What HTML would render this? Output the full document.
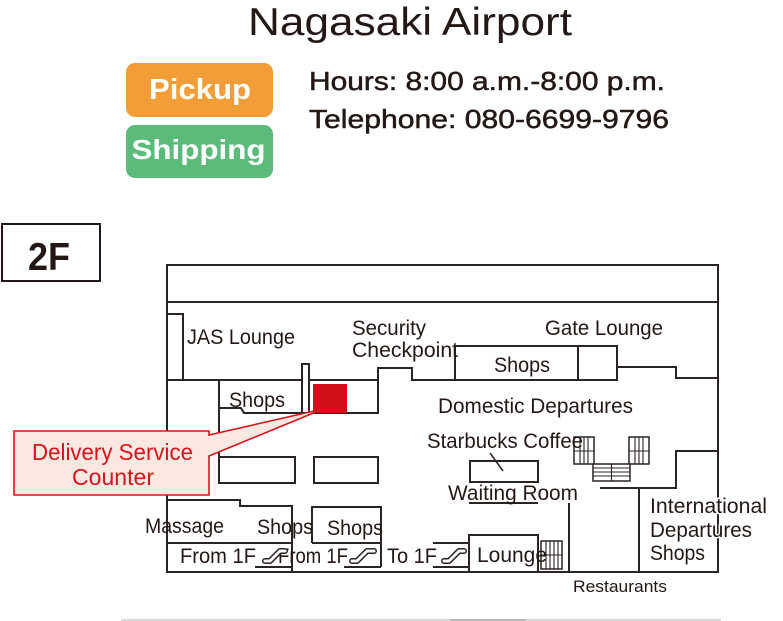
<!DOCTYPE html>
<html><head><meta charset="utf-8"><style>
html,body{margin:0;padding:0;background:#fff;}
svg{display:block;}
text{font-family:"Liberation Sans",Arial,sans-serif;}
</style></head><body>
<svg width="783" height="621" viewBox="0 0 783 621" xmlns="http://www.w3.org/2000/svg">
<rect width="783" height="621" fill="#fff"/>
<!-- Header -->
<text x="248" y="35" font-size="39" fill="#231815" textLength="324" lengthAdjust="spacingAndGlyphs">Nagasaki Airport</text>
<rect x="126" y="63" width="147" height="54" rx="9" fill="#f39d38"/>
<text x="149" y="99" font-size="29" font-weight="bold" fill="#fff" textLength="102" lengthAdjust="spacingAndGlyphs">Pickup</text>
<rect x="126" y="125" width="147" height="53" rx="9" fill="#5bbb7b"/>
<text x="131.5" y="159" font-size="28" font-weight="bold" fill="#fff" textLength="134" lengthAdjust="spacingAndGlyphs">Shipping</text>
<text x="309" y="90" font-size="26" fill="#231815" stroke="#231815" stroke-width="0.5" textLength="356" lengthAdjust="spacingAndGlyphs">Hours: 8:00 a.m.-8:00 p.m.</text>
<text x="309" y="128" font-size="26" fill="#231815" stroke="#231815" stroke-width="0.5" textLength="360" lengthAdjust="spacingAndGlyphs">Telephone: 080-6699-9796</text>

<!-- 2F -->
<rect x="2" y="224" width="98" height="57" fill="none" stroke="#231815" stroke-width="2"/>
<text x="28" y="270" font-size="39" font-weight="bold" fill="#231815" textLength="42" lengthAdjust="spacingAndGlyphs">2F</text>

<!-- Plan lines -->
<g fill="none" stroke="#2a2422" stroke-width="2">
  <rect x="167" y="265" width="551" height="307"/>
  <path d="M167,302 H718"/>
  <path d="M167,314 H183 V380"/>
  <path d="M167,380 H302"/>
  <rect x="302" y="364" width="7" height="49"/>
  <path d="M309,380 H378"/>
  <path d="M378,414 V368 H412 V380 H455"/>
  <path d="M455,380 V346 H617 V380 H455"/>
  <path d="M578,346 V380"/>
  <path d="M617,367 H676 V378 H718"/>
  <path d="M219,483 V380"/>
  <path d="M219,408 H241 L244,413 H302"/>
  <path d="M309,413 H378"/>
  <rect x="219" y="457" width="76" height="26"/>
  <rect x="314" y="457" width="64" height="26"/>
  <path d="M167,500 H240 V506 H292 V572"/>
  <path d="M167,543 H292"/>
  <path d="M255,567 H292"/>
  <path d="M312,543 V507 H381 V567"/>
  <path d="M312,543 H381"/>
  <path d="M344,567 H381"/>
  <path d="M433,543 H469"/>
  <path d="M433,567 H469"/>
  <rect x="469" y="535" width="69" height="37"/>
  <rect x="470" y="461" width="68" height="21"/>
  <path d="M469,503 H538"/>
  <path d="M718,451 H676 V488 H600"/>
  <path d="M639,488 V572"/>
  <path d="M569,503 V572"/>
</g>
<path d="M490,453 L503,471" stroke="#2a2422" stroke-width="1.5"/>

<!-- Stairs -->
<g fill="#fff" stroke="#2a2422" stroke-width="1.5">
  <rect x="574" y="437" width="20" height="27"/>
  <rect x="629" y="437" width="20" height="27"/>
  <rect x="593" y="464" width="37" height="17"/>
  <rect x="541" y="541" width="21" height="28"/>
</g>
<g stroke="#2a2422" stroke-width="1.1">
  <path d="M580,437 V464 M584,437 V464 M588,437 V464 M574,451 H594"/>
  <path d="M635,437 V464 M639,437 V464 M643,437 V464 M629,451 H649"/>
  <path d="M593,468 H630 M593,472 H630 M593,476 H630 M611.5,464 V481"/>
  <path d="M546,541 V569 M550,541 V569 M554,541 V569 M558,541 V569 M541,555 H562"/>
</g>

<!-- Red counter -->
<rect x="313" y="384" width="34" height="29" fill="#d0111b"/>

<!-- Labels -->
<g font-size="21" fill="#231815">
  <text x="187" y="344" textLength="108" lengthAdjust="spacingAndGlyphs">JAS Lounge</text>
  <text x="352" y="335" textLength="74" lengthAdjust="spacingAndGlyphs">Security</text>
  <text x="352" y="357" textLength="106" lengthAdjust="spacingAndGlyphs">Checkpoint</text>
  <text x="545" y="335" textLength="118" lengthAdjust="spacingAndGlyphs">Gate Lounge</text>
  <text x="494" y="372" textLength="56" lengthAdjust="spacingAndGlyphs">Shops</text>
  <text x="229" y="407" textLength="56" lengthAdjust="spacingAndGlyphs">Shops</text>
  <text x="438" y="413" textLength="195" lengthAdjust="spacingAndGlyphs">Domestic Departures</text>
  <text x="427" y="448" textLength="156" lengthAdjust="spacingAndGlyphs">Starbucks Coffee</text>
  <text x="448" y="500" textLength="130" lengthAdjust="spacingAndGlyphs">Waiting Room</text>
  <text x="145" y="533" textLength="79" lengthAdjust="spacingAndGlyphs">Massage</text>
  <text x="257" y="534" textLength="56" lengthAdjust="spacingAndGlyphs">Shops</text>
  <text x="327" y="535" textLength="56" lengthAdjust="spacingAndGlyphs">Shops</text>
  <text x="180" y="563" textLength="76" lengthAdjust="spacingAndGlyphs">From 1F</text>
  <text x="278" y="563" textLength="70" lengthAdjust="spacingAndGlyphs">From 1F</text>
  <text x="387" y="563" textLength="50" lengthAdjust="spacingAndGlyphs">To 1F</text>
  <text x="477" y="562" textLength="70" lengthAdjust="spacingAndGlyphs">Lounge</text>
  <text x="573" y="592" font-size="17" textLength="94" lengthAdjust="spacingAndGlyphs">Restaurants</text>
</g>
<g font-size="21" fill="#231815" stroke="#fff" stroke-width="3" paint-order="stroke">
  <text x="650" y="513" textLength="117" lengthAdjust="spacingAndGlyphs">International</text>
  <text x="650" y="537" textLength="102" lengthAdjust="spacingAndGlyphs">Departures</text>
  <text x="650" y="560" textLength="55" lengthAdjust="spacingAndGlyphs">Shops</text>
</g>

<!-- Escalators -->
<g fill="none" stroke-linecap="round" stroke-linejoin="round">
  <g transform="translate(261,547)">
    <path d="M4,14 H9 L19,4 H24" stroke="#2a2422" stroke-width="6"/>
    <path d="M4,14 H9 L19,4 H24" stroke="#fff" stroke-width="3"/>
  </g>
  <g transform="translate(348,547)">
    <path d="M4,14 H9 L19,4 H26" stroke="#2a2422" stroke-width="6"/>
    <path d="M4,14 H9 L19,4 H26" stroke="#fff" stroke-width="3"/>
  </g>
  <g transform="translate(440,547)">
    <path d="M4,14 H9 L19,4 H24" stroke="#2a2422" stroke-width="6"/>
    <path d="M4,14 H9 L19,4 H24" stroke="#fff" stroke-width="3"/>
  </g>
</g>

<!-- Callout -->
<path d="M14,431 H209 V435 L323,409 L209,456 V495 H14 Z" fill="#fbe9e1" stroke="#d7141e" stroke-width="1.6" stroke-linejoin="miter"/>
<text x="32" y="460" font-size="23" fill="#d7141e" textLength="161" lengthAdjust="spacingAndGlyphs">Delivery Service</text>
<text x="72" y="485" font-size="23" fill="#d7141e" textLength="82" lengthAdjust="spacingAndGlyphs">Counter</text>

<!-- bottom rule -->
<path d="M121,620 H721" stroke="#cacaca" stroke-width="1.5"/>
<path d="M450,620 H526" stroke="#a8a8a8" stroke-width="1.5"/>
</svg>
</body></html>
